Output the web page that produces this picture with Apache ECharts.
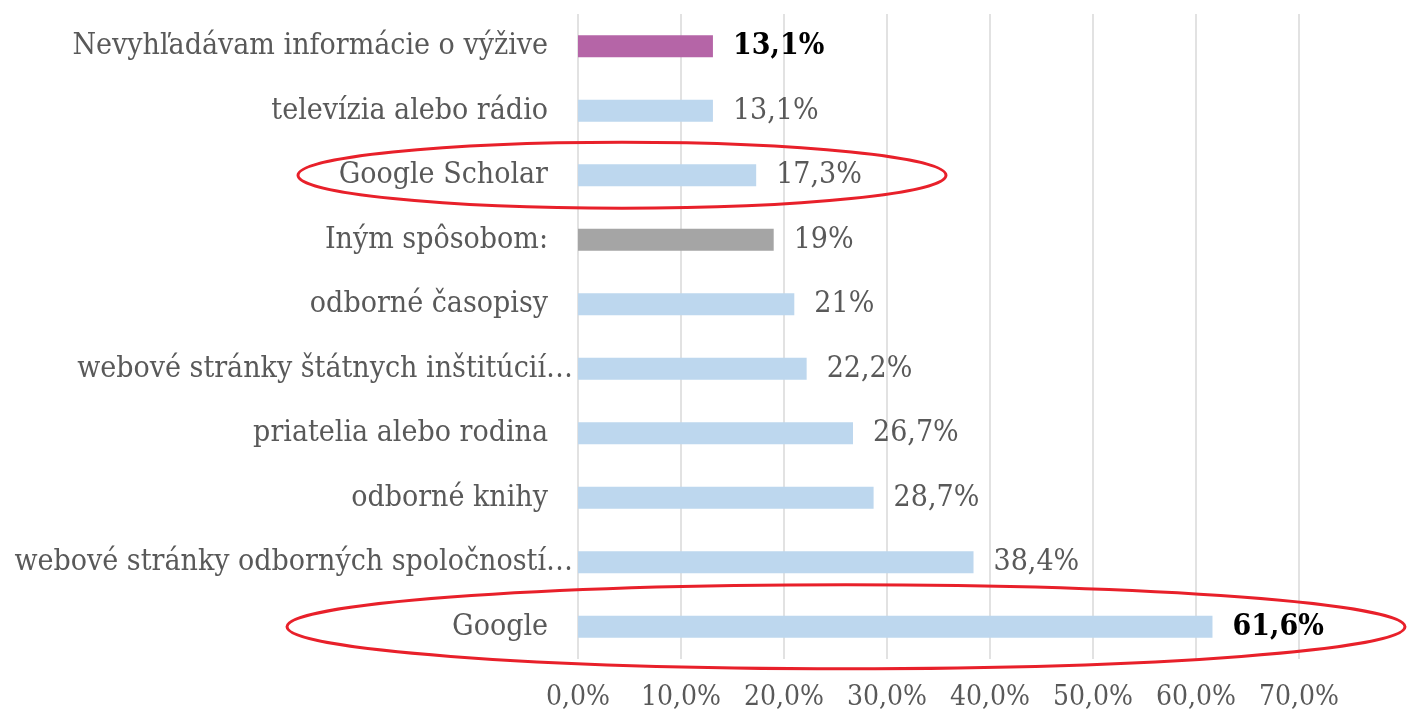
<!DOCTYPE html>
<html>
<head>
<meta charset="utf-8">
<script src="https://cdn.jsdelivr.net/npm/echarts@6/dist/echarts.min.js"></script>
<style>
  html, body { margin: 0; padding: 0; background: #fff; }
  #chart { width: 1408px; height: 716px; }
</style>
</head>
<body>
<div id="chart"></div>
<script>
var categories = [
    'Nevyhľadávam informácie o výžive',
    'televízia alebo rádio',
    'Google Scholar',
    'Iným spôsobom:',
    'odborné časopisy',
    'webové stránky štátnych inštitúcií…',
    'priatelia alebo rodina',
    'odborné knihy',
    'webové stránky odborných spoločností…',
    'Google'
];
var values = [13.1, 13.1, 17.3, 19, 21, 22.2, 26.7, 28.7, 38.4, 61.6];
var barColors = ['#b565a7', '#bdd7ee', '#bdd7ee', '#a5a5a5', '#bdd7ee', '#bdd7ee', '#bdd7ee', '#bdd7ee', '#bdd7ee', '#bdd7ee'];
var boldLabels = ['Nevyhľadávam informácie o výžive', 'Google'];

var FONT = '"DejaVu Serif Condensed", "DejaVu Serif", serif';

function pct(v, dec) {
    return (dec ? v.toFixed(1) : String(v)).replace('.', ',') + '%';
}

var chart = echarts.init(document.getElementById('chart'));

var data = values.map(function (v, i) {
    var bold = boldLabels.indexOf(categories[i]) !== -1;
    return {
        value: v,
        itemStyle: { color: barColors[i] },
        label: {
            color: bold ? '#000' : '#595959',
            fontWeight: bold ? 'bold' : 'normal'
        }
    };
});

var option = {
    animation: false,
    grid: { left: 578, right: 109, top: 14, height: 645 },
    xAxis: {
        type: 'value',
        min: 0,
        max: 70,
        interval: 10,
        axisLine: { show: false },
        axisTick: { show: false },
        splitLine: { lineStyle: { color: '#d9d9d9', width: 1.5 } },
        axisLabel: {
            margin: 25,
            color: '#595959',
            fontFamily: FONT,
            fontSize: 28,
            formatter: function (v) { return pct(v, true); }
        }
    },
    yAxis: {
        type: 'category',
        inverse: true,
        data: categories,
        axisLine: { show: false },
        axisTick: { show: false },
        axisLabel: {
            margin: 5,
            color: '#595959',
            fontFamily: FONT,
            fontSize: 30,
            formatter: function (v) {
                return v.slice(-1) === '…' ? v : '{n|' + v + '}';
            },
            rich: {
                n: { padding: [0, 25, 0, 0], color: '#595959', fontFamily: FONT, fontSize: 30 }
            }
        }
    },
    series: [{
        type: 'bar',
        data: data,
        barWidth: 22,
        label: {
            show: true,
            position: 'right',
            distance: 20,
            fontFamily: FONT,
            fontSize: 30,
            formatter: function (p) { return pct(p.value, p.value % 1 !== 0); }
        }
    }]
};

chart.setOption(option);

// red ellipses drawn around the highlighted rows
var shapes = [
    { cat: 'Google Scholar', cx: 622, rx: 324, ry: 33 },
    { cat: 'Google', cx: 846, rx: 559, ry: 42 }
];
chart.setOption({
    graphic: shapes.map(function (s) {
        var cy = chart.convertToPixel({ yAxisIndex: 0 }, s.cat);
        return {
            type: 'ellipse',
            shape: { cx: s.cx, cy: cy, rx: s.rx, ry: s.ry },
            style: { fill: 'none', stroke: '#e8202a', lineWidth: 3 },
            z: 100
        };
    })
});
</script>
</body>
</html>
